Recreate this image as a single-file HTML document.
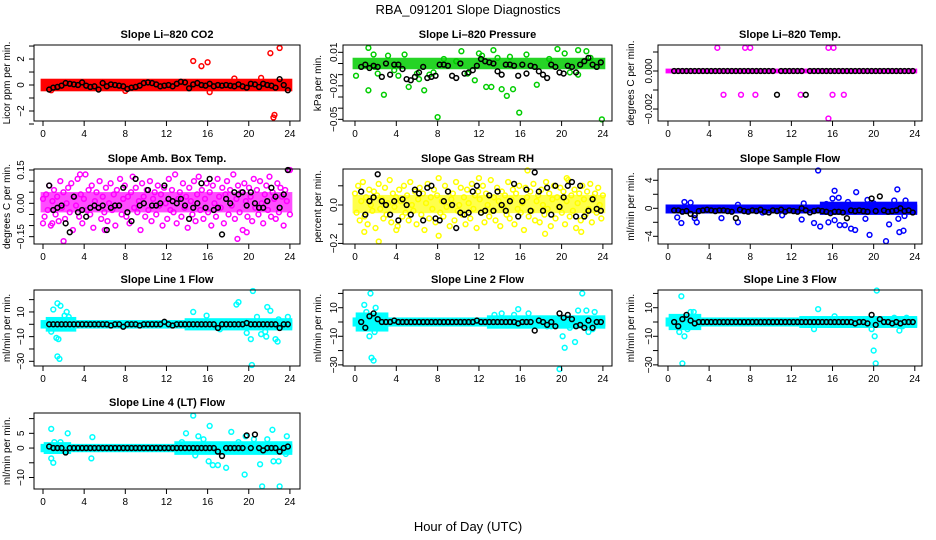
<!DOCTYPE html>
<html><head><meta charset="utf-8"><title>RBA_091201 Slope Diagnostics</title>
<style>
html,body{margin:0;padding:0;background:#fff;}
svg{display:block;font-family:"Liberation Sans",sans-serif;}
</style></head>
<body>
<svg id="chart" width="936" height="540" viewBox="0 0 936 540" xmlns="http://www.w3.org/2000/svg">
<rect x="0" y="0" width="936" height="540" fill="#fff"/>
<text x="468" y="14" text-anchor="middle" font-size="13">RBA_091201  Slope Diagnostics</text>
<text x="468" y="531" text-anchor="middle" font-size="13">Hour of Day (UTC)</text>
</svg>
<script>
// shared data
const xTicks = [0,4,8,12,16,20,24];
const blackHours = [0.6,1.0,1.4,1.8,2.2,2.6,3.0,3.4,3.8,4.2,4.6,5.0,5.4,5.8,6.2,6.6,7.0,7.4,7.8,8.2,8.6,9.0,9.4,9.8,10.2,10.6,11.0,11.4,11.8,12.2,12.6,13.0,13.4,13.8,14.2,14.6,15.0,15.4,15.8,16.2,16.6,17.0,17.4,17.8,18.2,18.6,19.0,19.4,19.8,20.2,20.6,21.0,21.4,21.8,22.2,22.6,23.0,23.4,23.8];

// CO2
const co2Blk = [-0.35,-0.2,-0.15,-0.05,0.15,0.1,0.05,0.0,0.2,-0.05,-0.15,-0.1,-0.35,0.15,-0.1,0.05,0.0,-0.05,-0.1,-0.3,-0.2,-0.15,-0.05,0.15,0.2,0.15,0.05,-0.1,-0.05,0.0,-0.1,0.1,0.25,0.2,-0.25,0.05,0.15,0.0,-0.05,0.1,-0.1,0.0,-0.05,0.0,-0.05,-0.1,0.05,-0.1,-0.2,0.1,0.05,-0.15,0.1,0.0,-0.05,-0.2,0.45,0.0,-0.4];
const co2OutX = [14.6,15.4,16.0,22.1,23.0,22.4,22.5,18.6,21.2,16.2,8.0,0.8];
const co2OutY = [1.85,1.45,1.75,2.45,2.85,-2.5,-2.3,0.5,0.55,-0.55,-0.45,-0.4];
const co2Bands = [[0,24,-0.3,0.3]];

// Pressure
const presBlk = [-0.003,-0.001,-0.004,-0.002,-0.003,-0.012,0,-0.01,-0.001,-0.001,-0.005,-0.014,-0.015,-0.012,-0.008,-0.003,-0.013,-0.012,-0.011,-0.001,-0.001,-0.002,-0.011,-0.013,0,-0.009,-0.008,-0.006,-0.002,0.004,0.002,0.001,0.000,-0.007,-0.010,-0.001,-0.001,-0.002,-0.011,-0.001,-0.009,-0.002,-0.003,-0.007,-0.010,-0.013,-0.001,-0.003,-0.008,-0.009,-0.002,-0.003,-0.008,-0.001,0.002,0.005,-0.001,-0.003,0.001];
const presOutX = [0.1,1.3,1.3,1.8,2.2,2.8,3.2,4.2,4.8,5.2,6.2,6.7,7.2,8.0,8.6,9.8,10.3,11.6,12.3,12.7,13.2,13.4,14.2,14.7,15.3,15.9,16.6,17.6,19.6,20.3,21.6,22.4,23.9,1.9,3.8,6.0,7.6,10.9,12.0,15.0,18.8,20.8,21.6,22.8,13.8];
const presOutY = [-0.011,0.014,-0.024,0.008,-0.009,-0.028,0.007,-0.011,0.008,-0.021,-0.014,-0.024,-0.01,-0.048,0.004,0.002,0.011,-0.015,0.007,-0.021,-0.021,0.012,-0.023,-0.029,-0.023,-0.044,0.008,-0.019,0.013,0.009,0.012,0.011,-0.05,-0.003,-0.006,-0.009,-0.008,-0.009,0.009,0.006,0.004,-0.008,-0.01,0.005,0.005];
const presBands = [[0,24,-0.003,0.003]];

// Li-820 Temp
const tempBlk = [0,0,0,0,0,0,0,0,0,0,0,0,0,0,0,0,0,0,0,0,0,0,0,0,0,-0.00125,0,0,0,0,0,0,-0.00125,0,0,0,0,0,0,0,0,0,0,0,0,0,0,0,0,0,0,0,0,0,0,0,0,0,0];
const tempOutX = [4.8,7.5,8.0,15.6,16.1,5.4,7.1,8.5,12.9,16.0,17.1,15.6];
const tempOutY = [0.00122,0.00122,0.00122,0.00122,0.00122,-0.00125,-0.00125,-0.00125,-0.00125,-0.00125,-0.00125,-0.0025];
const tempBands = [[0,24,0,0]];

// Amb box temp
const ambY = [0.02,-0.06,0.04,-0.03,0.08,-0.1,0.01,0.06,-0.05,0.03,-0.08,0.1,-0.02,0.05,-0.07,0.0,0.07,-0.04,0.09,-0.12,0.03,-0.01,0.11,-0.06,0.04,-0.09,0.02,0.13,-0.03,0.06,-0.05,0.08,-0.11,0.01,0.05,-0.02,0.1,-0.07,0.03,-0.04,0.07,-0.08,0.0,0.09,-0.03,0.04,-0.1,0.06,-0.01,0.11,-0.05,0.02,0.08,-0.06,0.03,-0.09,0.05,0.12,-0.02,0.07,-0.04,0.01,-0.12,0.09,0.03,-0.06,0.06,-0.03,0.1,-0.08,0.02,0.05,-0.05,0.08,-0.01,0.04,-0.1,0.07,0.0,-0.07,0.11,-0.03,0.06,-0.04,0.13,-0.09,0.02,0.05,-0.06,0.09,-0.02,0.03,-0.11,0.07,0.01,-0.05,0.1,-0.08,0.04,0.12,-0.03,0.06,-0.07,0.02,0.09,-0.04,0.05,-0.1,0.08,0.0,-0.06,0.11,0.03,-0.02,0.07,-0.09,0.04,0.1,-0.05,0.06,-0.01,0.13,-0.07,0.02,0.08,-0.04,0.05,-0.12,0.09,0.01,-0.06,0.07,0.03,-0.08,0.11,-0.02,0.06,-0.05,0.1,0.0,-0.09,0.04,0.08,-0.03,0.12,-0.06,0.05,0.02,-0.07,0.09,-0.04,0.07,0.03,-0.1,0.06,0.01,0.15,-0.05];
const ambBlk = [0.08,-0.03,-0.02,-0.01,-0.09,-0.13,0.03,-0.04,-0.03,-0.06,-0.02,-0.01,-0.02,-0.01,-0.12,-0.02,-0.01,-0.01,0.07,-0.04,-0.08,0.11,-0.01,0.0,0.06,-0.01,-0.01,0.0,0.08,0.02,0.01,0.0,0.02,-0.01,-0.07,-0.02,0.0,0.09,-0.02,0.11,-0.03,-0.02,-0.14,0.02,0.0,0.05,0.04,0.05,-0.01,0.05,0.0,-0.02,-0.02,0.01,0.07,0.03,-0.02,0.04,0.15];
const ambOutX = [2.0,3.6,18.9,19.8,0.0,0.9,6.0,24.0];
const ambOutY = [-0.17,0.13,-0.16,-0.13,-0.09,-0.09,-0.12,0.15];
const ambBands = [[0,24,-0.03,0.04]];

// Gas stream RH
const rhY = [0.06,-0.04,0.1,-0.08,0.02,0.12,-0.06,0.04,-0.1,0.08,0.0,-0.03,0.07,-0.12,0.05,0.11,-0.02,0.03,-0.07,0.09,-0.05,0.01,0.13,-0.09,0.06,-0.01,0.04,-0.11,0.08,0.02,-0.06,0.1,-0.04,0.05,-0.08,0.12,0.0,-0.03,0.07,-0.1,0.03,0.09,-0.05,0.06,-0.13,0.01,0.11,-0.07,0.04,-0.02,0.08,-0.09,0.05,0.14,-0.04,0.02,-0.06,0.1,-0.01,0.07,-0.11,0.03,0.06,-0.08,0.12,-0.03,0.0,0.09,-0.05,0.04,-0.1,0.08,0.01,-0.07,0.11,-0.02,0.05,-0.12,0.07,0.03,-0.04,0.1,-0.09,0.06,0.0,-0.06,0.13,-0.03,0.04,-0.08,0.09,0.02,-0.11,0.07,-0.01,0.05,-0.05,0.12,-0.07,0.03,0.08,-0.1,0.06,-0.02,0.1,-0.04,0.01,-0.13,0.09,0.04,-0.06,0.07,-0.03,0.11,-0.08,0.02,0.05,-0.09,0.08,0.0,-0.05,0.12,-0.02,0.06,-0.11,0.03,0.1,-0.07,0.04,-0.01,0.09,-0.04,0.07,-0.1,0.02,0.13,-0.06,0.05,-0.03,0.08,-0.12,0.01,0.06,-0.08,0.1,0.03,-0.05,0.07,-0.02,0.11,-0.09,0.04,0.06,-0.04,0.09,0.0,-0.07,0.05];
const rhBlk = [0.07,-0.05,0.02,0.04,0.16,0.02,0.0,-0.05,0.02,-0.08,0.03,0.0,-0.05,0.08,0.06,-0.08,0.09,0.1,-0.07,-0.08,0.02,0.07,0.0,-0.12,-0.04,-0.05,-0.04,0.07,0.1,-0.04,-0.03,0.05,-0.03,0.07,0.0,-0.03,0.02,0.11,-0.06,0.02,0.08,-0.03,0.17,0.07,-0.03,0.09,-0.05,0.1,-0.01,0.04,0.1,0.12,-0.06,0.1,-0.06,-0.03,0.03,-0.02,-0.03];
const rhOutX = [2.3,0.9,16.7,12.0,20.5,21.9,18.4,4.0,8.1];
const rhOutY = [-0.19,-0.14,0.18,0.14,0.14,-0.14,-0.15,-0.13,-0.16];
const rhBands = [[0,24,-0.03,0.04]];

// Sample flow
const sfBlk = [-0.3,-0.3,-0.5,-0.4,-0.8,-1.0,-0.4,-0.3,-0.2,-0.3,-0.4,-0.3,-0.3,-0.4,-0.5,-1.4,-0.2,-0.4,-0.5,-0.3,-0.4,-0.2,-0.5,-0.6,-0.3,-0.4,-0.2,-0.5,-0.3,-0.4,-0.5,0.0,-0.3,-0.6,-0.4,-0.3,-0.4,-0.5,-0.7,-0.5,-0.5,-0.6,-1.4,-0.3,-0.4,-0.3,-0.4,-0.5,1.4,-0.4,1.7,-0.3,-0.5,-0.4,-0.3,0.0,-0.4,-0.3,-0.6];
const sfOutX = [0.9,1.3,1.6,2.2,2.6,2.8,5.2,6.8,6.8,9.2,11.1,13.0,13.2,14.2,14.6,14.8,15.6,16.0,16.2,16.2,16.6,16.7,17.2,17.8,18.2,18.3,19.2,19.6,20.0,21.2,21.5,22.0,22.3,22.4,22.5,22.9,23.0,23.1,17.5,19.4,15.4];
const sfOutY = [-1.3,-2.1,0.9,0.8,-1.4,-2.0,-1.4,-2.0,0.5,-0.6,-1.0,-1.6,0.7,-2.1,5.4,-2.6,-2.0,1.4,2.5,-1.7,1.5,-2.4,-2.4,-2.9,-3.1,2.3,-1.5,-3.8,0.7,-4.7,-2.3,1.1,2.7,-1.5,-3.4,-3.2,-1.1,1.1,0.9,1.2,0.6];
const sfBands = [[0,24,-0.4,0.2],[15,24,-0.6,0.6]];

// Line 1
const l1Blk = [0,0,0,0,0,0,0,0,0,0,0,0,0,0,0,-1,0,0,-2,0,0,0,-1,0,0,0,0,0,2,0,-1,0,0,0,0,0,0,0,0,0,0,-3,0,0,0,0,0,0,1,0,0,0,0,0,0,0,-3,0,0];
const l1OutX = [1.0,1.4,1.7,2.1,2.3,2.5,1.3,1.5,1.4,1.6,14.6,15.9,18.8,19.0,19.8,20.2,20.3,20.4,20.8,21.2,21.7,21.8,22.1,22.6,22.8,23.8,21.6,17.2,22.9,0.8];
const l1OutY = [12,17,15,7,10,6,-11,-12,-26,-28,10,7,16,18,-7,-12,-33,27,6,-8,-10,14,11,-12,-14,6,-6,-4,4,-6];
const l1Bands = [[0,24,-1.5,1.5],[0.5,3,-4,4],[14,24,-3,3]];

// Line 2
const l2Blk = [0,-4,4,6,2,0,0,0,1,0,0,0,0,0,0,0,0,0,0,0,0,0,0,0,0,0,0,0,1,0,0,0,0,0,0,0,0,0,-1,0,0,0,-6,1,0,-2,0,-3,6,3,5,2,-3,-2,-4,1,-4,0,0];
const l2OutX = [0.9,1.4,1.5,1.6,1.8,2.0,1.9,2.3,1.1,15.4,15.8,16.8,19.8,20.1,20.3,20.8,21.3,21.6,22.0,22.4,22.6,23.2,23.0,18.6,19.0,13.5,14.2];
const l2OutY = [12,-10,20,-25,-27,10,-7,-4,7,5,9,6,-33,-10,-18,-4,-14,8,20,8,-7,7,-5,-3,-3,5,6];
const l2Bands = [[0,24,-1.5,1.5],[0.3,3,-5,5],[13,24,-3,3]];

// Line 3
const l3Blk = [0,-3,2,5,1,-1,0,0,0,0,0,0,0,0,0,0,0,0,0,0,0,0,0,0,0,0,0,0,0,0,0,0,0,0,0,0,0,0,0,0,0,0,0,0,-1,0,0,-1,5,-2,2,0,0,-1,0,-1,0,0,0];
const l3OutX = [1.3,1.6,1.4,1.1,1.9,2.2,2.5,14.2,14.6,16.2,19.8,20.0,20.2,20.1,20.3,22.0,22.5,22.8,23.2];
const l3OutY = [18,-10,-29,-7,-5,7,7,-5,9,4,-5,-20,-29,-10,22,3,-6,-3,3];
const l3Bands = [[0,24,-1.5,1.5],[0.3,3,-4,4],[13,24,-2.5,2.5]];

// Line 4
const l4Blk = [0.5,0,0,0,-1.5,0,0,0,0,0,0,0,0,0,0,0,0,0,0,0,0,0,0,0,0,0,0,0,0,0,0,0,0,0,0,0,0,0,0,0,0,-1.2,-2.7,0,0,0,0,0,4.3,0,4.6,0,-0.8,0,0,0,-1.2,0,0.5];
const l4OutX = [0.8,0.8,1.0,1.1,1.7,2.4,4.8,4.7,13.9,14.6,14.8,15.1,16.2,16.1,16.5,17.0,17.8,18.3,19.6,19.7,21.1,21.3,22.3,22.4,22.9,23.0,23.7,23.6,14.6,15.6,19.0,20.5,21.8,13.5];
const l4OutY = [6.5,-3.5,-5,2,2,5,3.7,-3.5,5,11,-2.5,4,7.5,-4.5,-5.8,-5.8,-6.7,5.5,-9,4,-5.5,-13,6.2,-4.5,-4.5,-13,4,-2,-1,3,2,3,3,2];
const l4Bands = [[0,24,-0.6,0.6],[13,24,-1.5,1.5],[0.3,2.5,-1.2,1.2]];

// Layout (not data)
const cols = [{L:34,R:300,dmin:-0.875,dmax:24.98,tickLabX:24,titleX:10},
              {L:343,R:612,dmin:-1.16,dmax:24.88,tickLabX:337,titleX:321},
              {L:658,R:922,dmin:-0.97,dmax:24.7,tickLabX:652,titleX:634}];
const rows = [{T:45,B:121},{T:169,B:244},{T:290,B:366},{T:413,B:489}];

const panels = [
 {id:'co2',title:'Slope Li\u2013820 CO2',ylab:'Licor ppm per min.',c:0,r:0,ymin:-2.77,ymax:3.08,ticks:[-3,-2,-1,0,1,2,3],labs:[-2,0,2],lf:v=>fmt(v,0),color:'#FF0000',bands:co2Bands,op:1,ox:co2OutX,oy:co2OutY,blk:co2Blk},
 {id:'pressure',title:'Slope Li\u2013820 Pressure',ylab:'kPa per min.',c:1,r:0,ymin:-0.05148,ymax:0.01656,ticks:[0.01,0,-0.01,-0.02,-0.03,-0.04,-0.05],labs:[0.01,-0.02,-0.05],lf:v=>fmt(v,2),color:'#00CD00',bands:presBands,op:0.85,ox:presOutX,oy:presOutY,blk:presBlk},
 {id:'li820-temp',title:'Slope Li\u2013820 Temp.',ylab:'degrees C per min.',c:2,r:0,ymin:-0.00263,ymax:0.001368,ticks:[0.001,0,-0.001,-0.002],labs:[0,-0.002],lf:v=>fmt(v,3),color:'#FF00FF',bands:tempBands,op:1,ox:tempOutX,oy:tempOutY,blk:tempBlk},
 {id:'amb-box-temp',title:'Slope Amb. Box Temp.',ylab:'degrees C per min.',c:0,r:1,ymin:-0.183,ymax:0.1545,ticks:[-0.15,-0.1,-0.05,0,0.05,0.1,0.15],labs:[-0.15,0,0.15],lf:v=>fmt(v,2),color:'#FF00FF',bands:ambBands,op:0.7,sy:ambY,ox:ambOutX,oy:ambOutY,blk:ambBlk},
 {id:'gas-stream-rh',title:'Slope Gas Stream RH',ylab:'percent per min.',c:1,r:1,ymin:-0.203,ymax:0.1875,ticks:[0.1,0,-0.1,-0.2],labs:[0,-0.2],lf:v=>fmt(v,1),color:'#FFFF00',bands:rhBands,op:0.7,sy:rhY,ox:rhOutX,oy:rhOutY,blk:rhBlk},
 {id:'sample-flow',title:'Slope Sample Flow',ylab:'ml/min per min.',c:2,r:1,ymin:-5.1,ymax:5.61,ticks:[4,2,0,-2,-4],labs:[4,0,-4],lf:v=>fmt(v,0),color:'#0000FF',bands:sfBands,op:1,ox:sfOutX,oy:sfOutY,blk:sfBlk},
 {id:'line1-flow',title:'Slope Line 1 Flow',ylab:'ml/min per min.',c:0,r:2,ymin:-33.8,ymax:27.8,ticks:[20,10,0,-10,-20,-30],labs:[10,-10,-30],lf:v=>fmt(v,0),color:'#00FFFF',bands:l1Bands,op:1,ox:l1OutX,oy:l1OutY,blk:l1Blk},
 {id:'line2-flow',title:'Slope Line 2 Flow',ylab:'ml/min per min.',c:1,r:2,ymin:-30.8,ymax:22.4,ticks:[20,10,0,-10,-20,-30],labs:[10,-10,-30],lf:v=>fmt(v,0),color:'#00FFFF',bands:l2Bands,op:1,ox:l2OutX,oy:l2OutY,blk:l2Blk},
 {id:'line3-flow',title:'Slope Line 3 Flow',ylab:'ml/min per min.',c:2,r:2,ymin:-30.8,ymax:22.4,ticks:[20,10,0,-10,-20,-30],labs:[10,-10,-30],lf:v=>fmt(v,0),color:'#00FFFF',bands:l3Bands,op:1,ox:l3OutX,oy:l3OutY,blk:l3Blk},
 {id:'line4-flow',title:'Slope Line 4 (LT) Flow',ylab:'ml/min per min.',c:0,r:3,ymin:-13.9,ymax:11.9,ticks:[10,5,0,-5,-10],labs:[5,0,-10],lf:v=>fmt(v,0),color:'#00FFFF',bands:l4Bands,op:1,ox:l4OutX,oy:l4OutY,blk:l4Blk}
];

function fmt(v,d){ const s=v.toFixed(d); return (v<0?'\u2212'+s.slice(1):s); }
const NS='http://www.w3.org/2000/svg';
const svg=document.getElementById('chart');
function mk(tag,attrs,parent){ const e=document.createElementNS(NS,tag); for(const k in attrs) e.setAttribute(k,attrs[k]); (parent||svg).appendChild(e); return e; }
const R=2.4;

panels.forEach(p=>{
  const col=cols[p.c], row=rows[p.r];
  const xs=h=>col.L+(h-col.dmin)/(col.dmax-col.dmin)*(col.R-col.L);
  const ys=v=>row.B-(v-p.ymin)/(p.ymax-p.ymin)*(row.B-row.T);
  const g=mk('g',{});
  
  
  const t=mk('text',{x:(col.L+col.R)/2,y:row.T-7,'text-anchor':'middle','font-size':'11','font-weight':'bold'},g);
  t.textContent=p.title;
  
  
  const cy=(row.T+row.B)/2;
  const yl=mk('text',{x:col.titleX,y:cy,'text-anchor':'middle','font-size':'10',transform:'rotate(-90 '+col.titleX+' '+cy+')'},g);
  yl.textContent=p.ylab;
  
  
  const marks=mk('g',{},g);
  
  
  p.bands.forEach(b=>{
    const x1=xs(b[0])-R, x2=xs(b[1])+R, y1=ys(b[3])-R, y2=ys(b[2])+R;
    const r=mk('rect',{x:x1,y:y1,width:x2-x1,height:y2-y1,fill:p.color,'fill-opacity':p.op},marks);
    
    
  });
  if(p.sy){
    const n=p.sy.length;
    p.sy.forEach((v,i)=>{
      const c=mk('circle',{cx:xs(i*24/(n-1)),cy:ys(v),r:R,fill:'none',stroke:p.color,'stroke-width':1.5},marks);
      
      
    });
  }
  p.ox.forEach((h,i)=>{
    const c=mk('circle',{cx:xs(h),cy:ys(p.oy[i]),r:R,fill:'none',stroke:p.color,'stroke-width':1.5},marks);
    
    
  });
  const n=Math.min(blackHours.length,p.blk.length);
  for(let i=0;i<n;i++){
    const c=mk('circle',{cx:xs(blackHours[i]),cy:ys(p.blk[i]),r:R,fill:'none',stroke:'#000','stroke-width':1.5},marks);
    
    
  }
  const box=mk('rect',{x:col.L,y:row.T,width:col.R-col.L,height:row.B-row.T,fill:'none',stroke:'#000','stroke-width':1},g);
  
  
  const xa=mk('g',{},g);
  
  
  xTicks.forEach(h=>{
    const x=xs(h);
    mk('line',{x1:x,x2:x,y1:row.B,y2:row.B+5,stroke:'#000'},xa);
    const tl=mk('text',{x:x,y:row.B+16,'text-anchor':'middle','font-size':'10'},xa);
    tl.textContent=String(h);
    
    
  });
  const ya=mk('g',{},g);
  
  
  p.ticks.forEach(v=>{
    const y=ys(v);
    mk('line',{x1:col.L-5,x2:col.L,y1:y,y2:y,stroke:'#000'},ya);
  });
  p.labs.forEach(v=>{
    const y=ys(v);
    const tl=mk('text',{x:col.tickLabX,y:y,'text-anchor':'middle','font-size':'10',transform:'rotate(-90 '+col.tickLabX+' '+y+')'},ya);
    tl.textContent=p.lf(v);
    
    
  });
});
</script>
</body></html>
